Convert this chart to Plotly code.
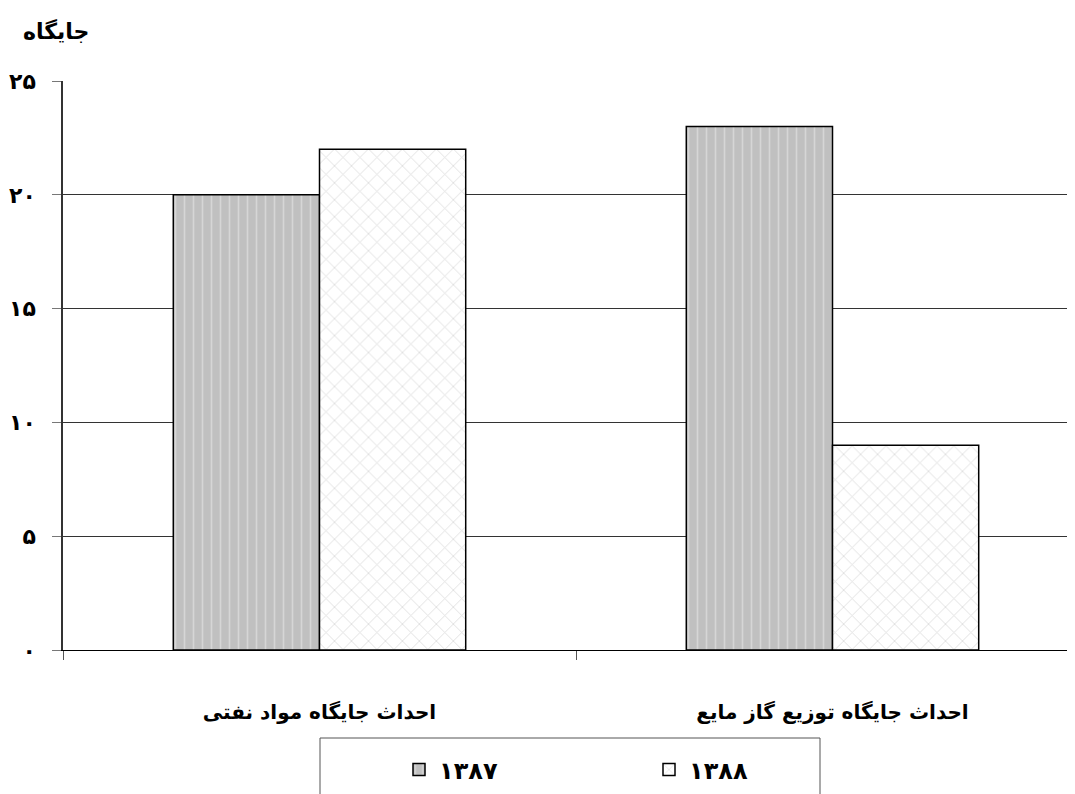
import plotly.graph_objects as go

categories = ["احداث جایگاه مواد نفتی", "احداث جایگاه توزیع گاز مایع"]
series_names = ["۱۳۸۷", "۱۳۸۸"]
values_1387 = [20, 23]
values_1388 = [22, 9]
y_ticks = [0, 5, 10, 15, 20, 25]
y_ticklabels = ["۰", "۵", "۱۰", "۱۵", "۲۰", "۲۵"]
y_title = "جایگاه"

FONT = "DejaVu Sans"
xpos = list(range(len(categories)))
PW, PH = 1012, 569  # plot area size in px
OFF = 8  # default page body margin

fig = go.Figure()
fig.add_trace(go.Bar(
    x=xpos, y=values_1387, name=series_names[0],
    marker=dict(color="#c0c0c0", line=dict(color="black", width=1.5),
                pattern=dict(shape="|", fgcolor="#ececec", bgcolor="#c0c0c0",
                             size=9, solidity=0.18)),
))
fig.add_trace(go.Bar(
    x=xpos, y=values_1388, name=series_names[1],
    marker=dict(color="white", line=dict(color="black", width=1.5),
                pattern=dict(shape="x", fgcolor="#bcbcbc", bgcolor="white",
                             size=12, solidity=0.14)),
))

fig.update_layout(
    width=1075 - OFF, height=794 - OFF,
    margin=dict(l=63 - OFF, r=0, t=81 - OFF, b=144),
    paper_bgcolor="white", plot_bgcolor="white",
    barmode="group", bargap=0.43, bargroupgap=0,
    font=dict(family=FONT, size=17, color="black"),
    showlegend=True,
    legend=dict(orientation="h", x=(399 - 63) / PW, xanchor="left",
                y=(650 - 770) / PH, yanchor="middle",
                borderwidth=0, entrywidth=205, bgcolor="rgba(0,0,0,0)",
                font=dict(family=FONT, size=24, color="black", weight="bold"),
                traceorder="normal", itemwidth=30),
    xaxis=dict(
        automargin=False,
        range=[-0.5, 1.5 - 14 / 513],
        tickvals=xpos, ticktext=categories,
        ticks="", showgrid=False, zeroline=False,
        showline=True, linecolor="black", linewidth=1,
        ticklabelstandoff=44,
        tickfont=dict(family=FONT, size=20, color="black", weight="bold"),
        minor=dict(tickvals=[-0.5, 0.5], ticks="outside", ticklen=9,
                   tickcolor="#555555", tickwidth=1, showgrid=False),
    ),
    yaxis=dict(
        automargin=False,
        range=[0, 25], tickvals=y_ticks,
        ticktext=y_ticklabels,
        ticks="outside", ticklen=9, tickcolor="#777777",
        showgrid=True, gridcolor="#333333", gridwidth=1,
        showline=True, linecolor="#333333", linewidth=1.5,
        zeroline=False, ticklabelstandoff=12,
        tickfont=dict(family=FONT, size=22, color="black", weight="bold"),
    ),
    shapes=[dict(type="rect", xref="paper", yref="paper",
                 x0=(320 - 63) / PW, x1=(820 - 63) / PW,
                 y0=(650 - 800) / PH, y1=(650 - 738) / PH,
                 line=dict(color="#555555", width=1), fillcolor="rgba(0,0,0,0)",
                 layer="below")],
    annotations=[dict(text=y_title, xref="paper", yref="paper",
                      x=(56 - 63) / PW, y=1 + 50 / PH, xanchor="center",
                      yanchor="middle", showarrow=False,
                      font=dict(family=FONT, size=22, color="black", weight="bold"))],
)

fig.write_html("out.html")
